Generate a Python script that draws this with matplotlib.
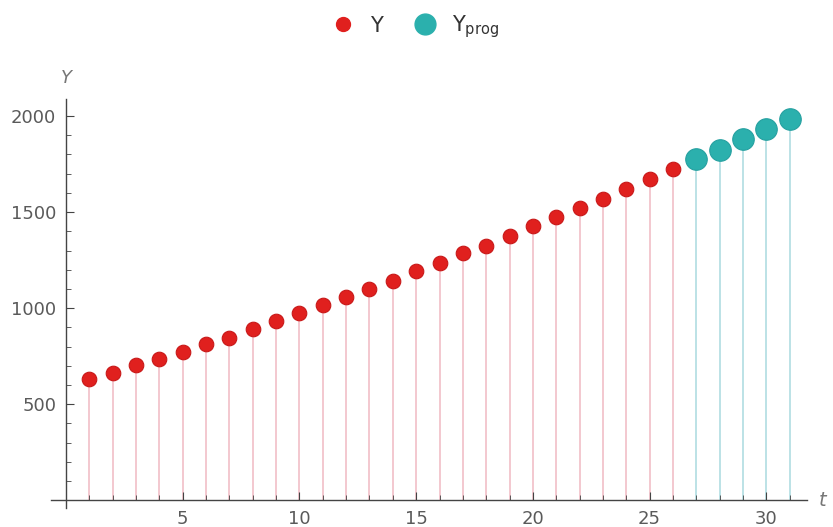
import matplotlib.pyplot as plt
from matplotlib.ticker import MultipleLocator
from matplotlib.lines import Line2D

# observed series (t = 1..26) and forecast (t = 27..31)
t_obs = list(range(1, 27))
y_obs = [629, 663, 705, 738, 771, 812, 847, 889, 932, 976,
         1016, 1057, 1099, 1141, 1191, 1234, 1288, 1326, 1375, 1427,
         1476, 1519, 1569, 1620, 1672, 1722]
t_prog = list(range(27, 32))
y_prog = [1774, 1825, 1880, 1931, 1984]

red = '#e0201e'
teal = '#2bb0ad'
red_stem = '#f2c4cc'
teal_stem = '#b6dfe4'
grey = '#5a5a5a'

fig = plt.figure(figsize=(8.33, 5.27), dpi=100)
ax = fig.add_axes([0.061, 0.036, 0.908, 0.776])

ax.vlines(t_obs, 0, y_obs, color=red_stem, lw=1.3, zorder=1)
ax.vlines(t_prog, 0, y_prog, color=teal_stem, lw=1.3, zorder=1)
ax.plot(t_obs, y_obs, 'o', ms=10.5, color=red, mec='#c81818', mew=0.8, zorder=3)
ax.plot(t_prog, y_prog, 'o', ms=15.5, color=teal, mec='#25a0a0', mew=0.8, zorder=3)

ax.set_xlim(-0.65, 31.75)
ax.set_ylim(-40, 2088)

# axes crossing at the origin
for s in ['top', 'right']:
    ax.spines[s].set_visible(False)
ax.spines['left'].set_position(('data', 0))
ax.spines['bottom'].set_position(('data', 0))
for s in ['left', 'bottom']:
    ax.spines[s].set_color('#444444')
    ax.spines[s].set_linewidth(1.0)

ax.xaxis.set_minor_locator(MultipleLocator(1))
ax.yaxis.set_minor_locator(MultipleLocator(100))
ax.set_xticks([5, 10, 15, 20, 25, 30])
ax.set_yticks([500, 1000, 1500, 2000])
ax.tick_params(which='both', direction='in', colors='#444444',
               labelcolor=grey, labelsize=13, pad=7)
ax.tick_params(which='major', length=6)
ax.tick_params(which='minor', length=3.5)

ax.text(0, 2200, 'Y', style='italic', color='#777777', fontsize=13,
        ha='center', va='center')
ax.text(32.4, 0, 't', style='italic', color='#777777', fontsize=14,
        ha='center', va='center')

handles = [Line2D([], [], ls='', marker='o', ms=10, color=red),
           Line2D([], [], ls='', marker='o', ms=15, color=teal)]
fig.legend(handles, ['Y', r'Y$_{\mathregular{prog}}$'], loc='upper center',
           bbox_to_anchor=(0.493, 1.01), ncol=2, frameon=False, fontsize=15,
           handletextpad=0.3, columnspacing=1.0, labelcolor='#333333')

fig.savefig('out.png', dpi=100, facecolor='white')
